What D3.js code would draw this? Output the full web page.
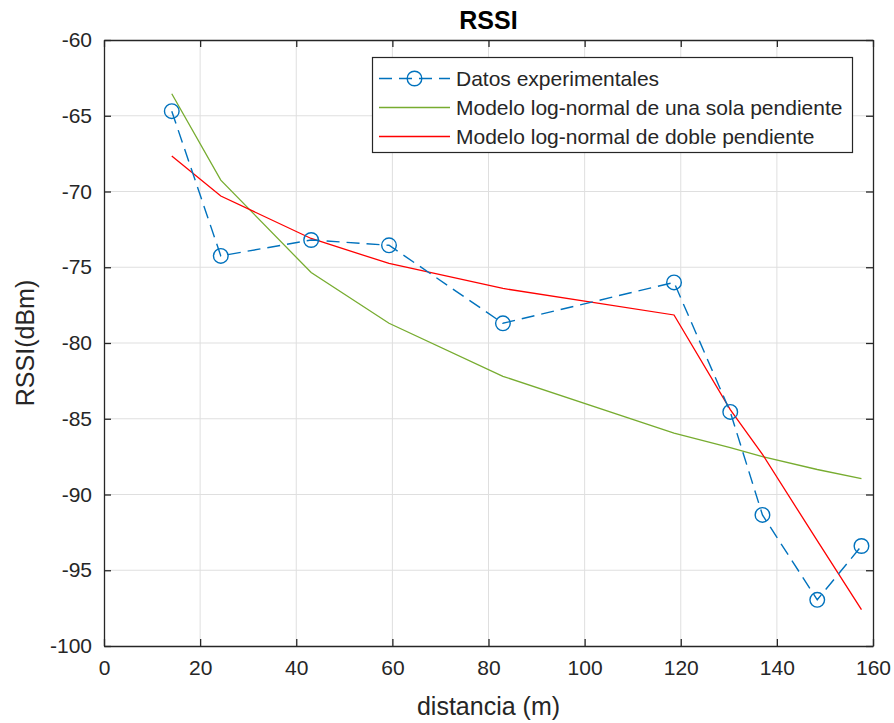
<!DOCTYPE html>
<html>
<head>
<meta charset="utf-8">
<script src="https://cdn.jsdelivr.net/npm/d3@7"></script>
<style>
  body { margin: 0; background: #fff; }
  svg { font-family: "Liberation Sans", Arial, sans-serif; }
</style>
</head>
<body>
<svg id="chart" width="894" height="723"></svg>
<script>
// distances (m)
const distancia = [14.1, 24.3, 43.1, 59.3, 83.0, 118.6, 130.3, 137.0, 148.4, 157.6];
// measured RSSI (dBm)
const rssiExp = [-64.7, -74.25, -73.2, -73.55, -78.7, -76.0, -84.55, -91.35, -96.95, -93.4];
// single slope model
const rssiUna = [-63.55, -69.25, -75.35, -78.7, -82.2, -85.95, -86.9, -87.5, -88.35, -88.95];
// double slope model
const rssiDoble = [-67.65, -70.3, -73.1, -74.75, -76.4, -78.15, -84.4, -87.35, -93.05, -97.6];

const xTicks = [0, 20, 40, 60, 80, 100, 120, 140, 160];
const yTicks = [-60, -65, -70, -75, -80, -85, -90, -95, -100];
const legendNames = ["Datos experimentales", "Modelo log-normal de una sola pendiente", "Modelo log-normal de doble pendiente"];

const chart = d3.select("#chart");
const pLeft = 104, pRight = 873, pTop = 40, pBottom = 646;
const axisCol = "#262626";
const blue = "#0072BD", green = "#77AC30", red = "#FF0000";

let x = d3.scaleLinear().domain([0, 160]).range([pLeft, pRight]);
let y = d3.scaleLinear().domain([-100, -60]).range([pBottom, pTop]);

// grid
chart.append("g").selectAll("line")
    .data(xTicks.slice(1, -1))
    .enter().append("line")
    .attr("x1", d => x(d)).attr("x2", d => x(d))
    .attr("y1", pTop).attr("y2", pBottom)
    .attr("stroke", "#dfdfdf").attr("stroke-width", 1);
chart.append("g").selectAll("line")
    .data(yTicks.slice(1, -1))
    .enter().append("line")
    .attr("y1", d => y(d)).attr("y2", d => y(d))
    .attr("x1", pLeft).attr("x2", pRight)
    .attr("stroke", "#dfdfdf").attr("stroke-width", 1);

// axes (ticks inside, box on)
const tickLen = 7;
const plain = d => String(d);   // keep ascii hyphen like the original
let xAxis = d3.axisBottom(x).tickValues(xTicks).tickFormat(plain).tickSizeInner(-tickLen).tickSizeOuter(0);
let xAxisGroup = chart.append("g")
    .attr("transform", "translate(0," + pBottom + ")")
    .call(xAxis);
let xTop = chart.append("g")
    .attr("transform", "translate(0," + pTop + ")")
    .call(d3.axisTop(x).tickValues(xTicks).tickSizeInner(-tickLen).tickSizeOuter(0).tickFormat(""));
let yAxis = d3.axisLeft(y).tickValues(yTicks).tickFormat(plain).tickSizeInner(-tickLen).tickSizeOuter(0).tickPadding(12);
let yAxisGroup = chart.append("g")
    .attr("transform", "translate(" + pLeft + ",0)")
    .call(yAxis);
let yRight = chart.append("g")
    .attr("transform", "translate(" + pRight + ",0)")
    .call(d3.axisRight(y).tickValues(yTicks).tickSizeInner(-tickLen).tickSizeOuter(0).tickFormat(""));

[xAxisGroup, xTop, yAxisGroup, yRight].forEach(g => {
    g.select(".domain").attr("stroke", axisCol).attr("stroke-width", 1.3);
    g.selectAll(".tick line").attr("stroke", axisCol).attr("stroke-width", 1.3);
    g.selectAll(".tick text").attr("fill", axisCol)
        .style("font-size", "21px").style("font-family", "'Liberation Sans', Arial, sans-serif");
});
xAxisGroup.selectAll(".tick text").attr("dy", "0.35em").attr("y", 22);

// lines
const line = (vals) => d3.line().x((d, i) => x(distancia[i])).y(d => y(d))(vals);

chart.append("path")
    .attr("d", line(rssiUna))
    .attr("fill", "none").attr("stroke", green).attr("stroke-width", 1.3);
chart.append("path")
    .attr("d", line(rssiDoble))
    .attr("fill", "none").attr("stroke", red).attr("stroke-width", 1.3);
chart.append("path")
    .attr("d", line(rssiExp))
    .attr("fill", "none").attr("stroke", blue).attr("stroke-width", 1.4)
    .attr("stroke-dasharray", "13,7");
chart.selectAll("circle.pt")
    .data(rssiExp)
    .enter().append("circle")
    .attr("class", "pt")
    .attr("cx", (d, i) => x(distancia[i]))
    .attr("cy", d => y(d))
    .attr("r", 7.3)
    .attr("fill", "none").attr("stroke", blue).attr("stroke-width", 1.4);

// title and labels
chart.append("text")
    .text("RSSI")
    .attr("x", (pLeft + pRight) / 2).attr("y", 29)
    .attr("text-anchor", "middle")
    .attr("font-weight", 700)
    .style("font-size", "25px").attr("fill", "#000");
chart.append("text")
    .text("distancia (m)")
    .attr("x", (pLeft + pRight) / 2).attr("y", 715)
    .attr("text-anchor", "middle")
    .style("font-size", "25px").attr("fill", axisCol);
chart.append("text")
    .text("RSSI(dBm)")
    .attr("transform", "translate(34," + ((pTop + pBottom) / 2) + ") rotate(-90)")
    .attr("text-anchor", "middle")
    .style("font-size", "25px").attr("fill", axisCol);

// legend
const lg = chart.append("g");
lg.append("rect")
    .attr("x", 372.5).attr("y", 57.5).attr("width", 480).attr("height", 95)
    .attr("fill", "#fff").attr("stroke", axisCol).attr("stroke-width", 1.2);
const rowY = [78.5, 107.5, 136.5];
const legCols = [blue, green, red];
legendNames.forEach((name, i) => {
    lg.append("line")
        .attr("x1", 379).attr("x2", 450)
        .attr("y1", rowY[i]).attr("y2", rowY[i])
        .attr("stroke", legCols[i]).attr("stroke-width", 1.3)
        .attr("stroke-dasharray", i === 0 ? "13,7" : null);
    if (i === 0) {
        lg.append("circle")
            .attr("cx", 414.5).attr("cy", rowY[i]).attr("r", 7.3)
            .attr("fill", "none").attr("stroke", blue).attr("stroke-width", 1.4);
    }
    lg.append("text")
        .text(name)
        .attr("x", 456).attr("y", rowY[i])
        .attr("dy", "0.35em")
        .style("font-size", "21px").attr("fill", axisCol);
});
</script>
</body>
</html>
